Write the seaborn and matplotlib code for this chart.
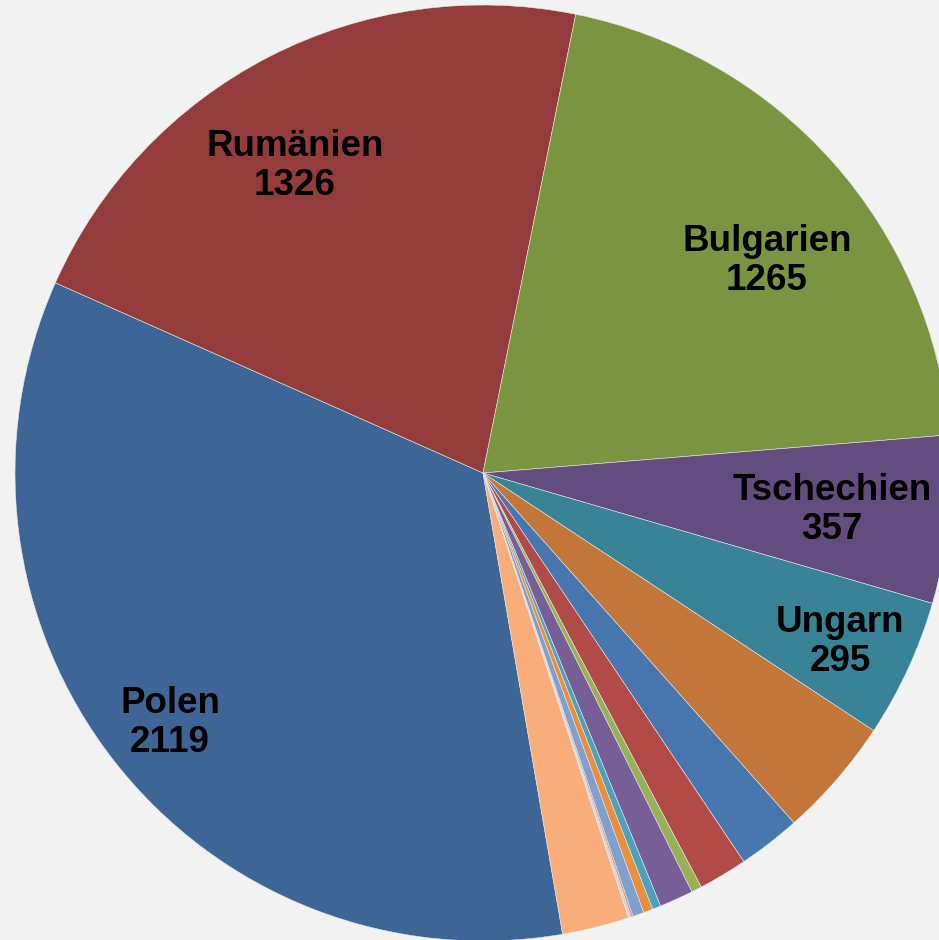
import numpy as np
import matplotlib
matplotlib.use("Agg")
import matplotlib.pyplot as plt
import seaborn as sns

# Data, in Excel's drawing order
labels = ["Polen", "Rumänien", "Bulgarien", "Tschechien", "Ungarn",
          "", "", "", "", "", "", "", "", "", "", "", "", ""]
values = [2119, 1326, 1265, 357, 295,
          256, 133, 104, 22, 72, 18, 20, 24, 4, 3, 2, 1, 142]

colors = ["#3D6696", "#943C3C", "#7A9442", "#634D7E", "#388496", "#C3763A",
          "#4876AE", "#B24A47", "#96B254", "#775E97", "#4AA3BA", "#E88E3E",
          "#7F9FCC", "#D08F8E", "#BED28C", "#AA96C8", "#8CC8D7", "#F8AD7B"]

sns.set_style("white")
plt.rcParams["font.family"] = ["Liberation Sans", "DejaVu Sans"]
palette = sns.color_palette(colors)

# pie centre and radius in pixels
cx, cy, rad = 483, 473, 468

fig = plt.figure(figsize=(9.39, 9.40), dpi=100, facecolor="#F2F2F2")
ax = fig.add_axes([0, 0, 1, 1])
ax.set_facecolor("#F2F2F2")

wedges, _ = ax.pie(values, colors=palette, startangle=90 - 170.2,
                   counterclock=False, radius=1.0,
                   wedgeprops=dict(edgecolor="#E8E8E8", linewidth=0.4))

# label block centres (pixel positions in the picture)
label_pos = {0: (170, 723), 1: (295, 166), 2: (767, 261),
             3: (832, 510), 4: (840, 642)}
for i, (px, py) in label_pos.items():
    ax.text((px - cx) / rad, (cy - py) / rad, f"{labels[i]}\n{values[i]}",
            ha="center", va="center", fontsize=26.5, fontweight="bold",
            color="black", linespacing=1.12)

ax.set_xlim(-cx / rad, (939 - cx) / rad)
ax.set_ylim(-(940 - cy) / rad, cy / rad)
ax.set_aspect("equal")
ax.axis("off")

fig.savefig("out.png", dpi=100, facecolor="#F2F2F2")
